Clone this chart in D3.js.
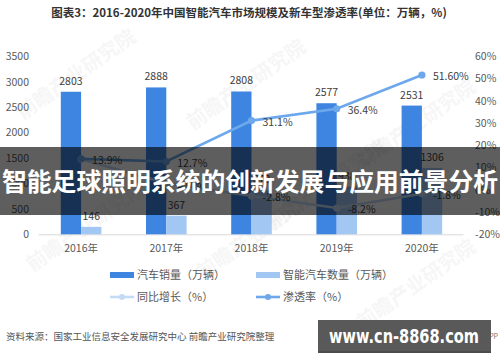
<!DOCTYPE html>
<html>
<head>
<meta charset="utf-8">
<script src="https://cdn.jsdelivr.net/npm/d3@7"></script>
<style>
  body { margin: 0; background: #fff; }
  svg { display: block; font-family: "Noto Sans CJK SC", "Noto Sans", sans-serif; }
</style>
</head>
<body>
<div id="chart"></div>
<script>
// data
const years = ['2016年', '2017年', '2018年', '2019年', '2020年']
const carSales = [2803, 2888, 2808, 2577, 2531]
const smartCars = [146, 367, 873, 938, 1306]
const yoyGrowth = [13.7, 3.0, -2.8, -8.2, -1.8]
const penetration = [13.9, 12.7, 31.1, 36.4, 51.6]
const penetrationLabels = ['13.9%', '12.7%', '31.1%', '36.4%', '51.60%']
const yoyLabels = ['', '3.0%', '-2.8%', '-8.2%', '-1.8%']
const leftTicks = [0, 500, 1000, 1500, 2000, 2500, 3000, 3500]
const rightTicks = [-20, -10, 0, 10, 20, 30, 40, 50, 60]

const W = 500
const H = 362
const textGray = '#595959'
const c1 = '#3d85e0'
const c2 = '#a3c7f3'
const cPen = '#6ea8ec'
const cYoy = '#c4dbf6'

const svg = d3
  .select('#chart')
  .append('svg')
  .attr('width', W)
  .attr('height', H)

// title
svg
  .append('text')
  .attr('x', 249)
  .attr('y', 17)
  .attr('text-anchor', 'middle')
  .style('font-size', '11.5px')
  .style('font-weight', 'bold')
  .style('fill', '#333')
  .text('图表3：2016-2020年中国智能汽车市场规模及新车型渗透率(单位：万辆，%)')

// faint watermarks
const wm = [[80, 80], [250, 90], [330, 190], [90, 232], [260, 240], [420, 130], [420, 290]]
wm.forEach(function(p) {
  svg
    .append('text')
    .attr('transform', 'translate(' + p[0] + ',' + p[1] + ') rotate(-35)')
    .attr('text-anchor', 'middle')
    .style('font-size', '20px')
    .style('font-weight', 'bold')
    .style('fill', '#000')
    .style('opacity', 0.03)
    .text('前瞻产业研究院')
})

// scales
const x = d3.scaleBand().domain(years).range([38.5, 464.5]).padding(0)
const bw = 20.3
const x1 = d3
  .scaleBand()
  .domain(['sales', 'smart'])
  .range([x.bandwidth() / 2 - bw, x.bandwidth() / 2 + bw])
const yL = d3.scaleLinear().domain([0, 3500]).range([234.3, 56.3])
const yR = d3.scaleLinear().domain([-20, 60]).range([234.3, 56.3])

// left axis
svg
  .append('g')
  .attr('transform', 'translate(29,0)')
  .call(
    d3
      .axisLeft(yL)
      .tickValues(leftTicks)
      .tickSize(0)
      .tickPadding(0)
      .tickFormat(d => String(d))
  )
  .call(g => g.select('.domain').remove())
  .selectAll('text')
  .style('font-size', '10.5px')
  .style('fill', textGray)
  .style('font-family', '"Noto Sans CJK SC", sans-serif')

// right axis
svg
  .append('g')
  .attr('transform', 'translate(475,0)')
  .call(
    d3
      .axisRight(yR)
      .tickValues(rightTicks)
      .tickSize(0)
      .tickPadding(0)
      .tickFormat(d => d + '%')
  )
  .call(g => g.select('.domain').remove())
  .selectAll('text')
  .style('font-size', '10.5px')
  .style('fill', textGray)
  .style('font-family', '"Noto Sans CJK SC", sans-serif')

// x axis
const xAxis = svg
  .append('g')
  .attr('transform', 'translate(0,' + yL(0) + ')')
  .call(d3.axisBottom(x).tickSize(0).tickPadding(10))
xAxis.select('.domain').attr('stroke', '#d9d9d9').attr('d', 'M38.5,0.5H463.5')
xAxis
  .selectAll('text')
  .style('font-size', '10.5px')
  .style('fill', textGray)
  .style('font-family', '"Noto Sans CJK SC", sans-serif')

// bars
const groups = svg
  .selectAll('.yr')
  .data(years)
  .enter()
  .append('g')
  .attr('class', 'yr')
  .attr('transform', d => 'translate(' + x(d) + ',0)')

groups
  .append('rect')
  .attr('x', x1('sales'))
  .attr('width', x1.bandwidth())
  .attr('y', (d, i) => yL(carSales[i]))
  .attr('height', (d, i) => yL(0) - yL(carSales[i]))
  .attr('fill', c1)

groups
  .append('rect')
  .attr('x', x1('smart'))
  .attr('width', x1.bandwidth())
  .attr('y', (d, i) => yL(smartCars[i]))
  .attr('height', (d, i) => yL(0) - yL(smartCars[i]))
  .attr('fill', c2)

groups
  .append('text')
  .attr('x', x1('sales') + x1.bandwidth() / 2)
  .attr('y', (d, i) => yL(carSales[i]) - 7)
  .attr('text-anchor', 'middle')
  .style('font-size', '10.5px')
  .style('fill', '#404040')
  .text((d, i) => carSales[i])

groups
  .append('text')
  .attr('x', x1('smart') + x1.bandwidth() / 2)
  .attr('y', (d, i) => yL(smartCars[i]) - 7)
  .attr('text-anchor', 'middle')
  .style('font-size', '10.5px')
  .style('fill', '#404040')
  .text((d, i) => smartCars[i])

// lines
const cx = d => x(d) + x.bandwidth() / 2

function drawLine(vals, color, labels) {
  const line = d3
    .line()
    .x((d, i) => cx(years[i]))
    .y(d => yR(d))
  svg
    .append('path')
    .datum(vals)
    .attr('d', line)
    .attr('fill', 'none')
    .attr('stroke', color)
    .attr('stroke-width', 2.6)
  svg
    .selectAll(null)
    .data(vals)
    .enter()
    .append('circle')
    .attr('cx', (d, i) => cx(years[i]))
    .attr('cy', d => yR(d))
    .attr('r', 3.6)
    .attr('fill', color)
  svg
    .selectAll(null)
    .data(vals)
    .enter()
    .append('text')
    .attr('x', (d, i) => cx(years[i]) + 11)
    .attr('y', d => yR(d) + 5)
    .style('font-size', '10.5px')
    .style('fill', '#404040')
    .text((d, i) => labels[i])
}

drawLine(yoyGrowth, cYoy, yoyLabels)
drawLine(penetration, cPen, penetrationLabels)

// legend
const legend = [
  { name: '汽车销量（万辆）', color: c1, type: 'bar', x: 110, y: 275 },
  { name: '智能汽车数量（万辆）', color: c2, type: 'bar', x: 256, y: 275 },
  { name: '同比增长（%）', color: cYoy, type: 'line', x: 110, y: 297 },
  { name: '渗透率（%）', color: cPen, type: 'line', x: 256, y: 297 }
]
const lg = svg
  .selectAll('.lg')
  .data(legend)
  .enter()
  .append('g')
  .attr('class', 'lg')
  .attr('transform', d => 'translate(' + d.x + ',' + d.y + ')')
lg.filter(d => d.type === 'bar')
  .append('rect')
  .attr('x', 0)
  .attr('y', -3)
  .attr('width', 24)
  .attr('height', 6)
  .attr('fill', d => d.color)
lg.filter(d => d.type === 'line')
  .append('line')
  .attr('x1', 0)
  .attr('x2', 24)
  .attr('stroke', d => d.color)
  .attr('stroke-width', 2.6)
lg.filter(d => d.type === 'line')
  .append('circle')
  .attr('cx', 12)
  .attr('r', 3)
  .attr('fill', d => d.color)
lg.append('text')
  .attr('x', 27)
  .attr('y', 4)
  .style('font-size', '11px')
  .style('fill', textGray)
  .text(d => d.name)

// source
svg
  .append('text')
  .attr('x', 6)
  .attr('y', 340)
  .style('font-size', '9.5px')
  .style('fill', '#555')
  .text('资料来源：国家工业信息安全发展研究中心 前瞻产业研究院整理')

svg
  .append('text')
  .attr('x', 498)
  .attr('y', 339)
  .attr('text-anchor', 'end')
  .style('font-size', '7px')
  .style('fill', '#777')
  .text('APP')

// banner overlay
svg
  .append('rect')
  .attr('x', 0)
  .attr('y', 147)
  .attr('width', W)
  .attr('height', 68)
  .attr('fill', 'rgba(0,0,0,0.63)')

svg
  .append('text')
  .attr('x', 250)
  .attr('y', 190.5)
  .attr('text-anchor', 'middle')
  .attr('textLength', 496)
  .attr('lengthAdjust', 'spacingAndGlyphs')
  .style('font-size', '25px')
  .style('font-weight', 'bold')
  .style('fill', '#fff')
  .text('智能足球照明系统的创新发展与应用前景分析')

// site box
svg
  .append('rect')
  .attr('x', 318)
  .attr('y', 320)
  .attr('width', 173)
  .attr('height', 31)
  .attr('fill', '#595959')
svg
  .append('line')
  .attr('x1', 318)
  .attr('x2', 491)
  .attr('y1', 352)
  .attr('y2', 352)
  .attr('stroke', '#111')
  .attr('stroke-width', 1.5)
svg
  .append('text')
  .attr('x', 404)
  .attr('y', 343)
  .attr('text-anchor', 'middle')
  .style('font-size', '19px')
  .style('font-weight', 'bold')
  .style('font-family', '"DejaVu Sans", sans-serif')
  .attr('textLength', 150)
  .attr('lengthAdjust', 'spacingAndGlyphs')
  .style('fill', '#fff')
  .text('www.cn-8868.com')
</script>
</body>
</html>
